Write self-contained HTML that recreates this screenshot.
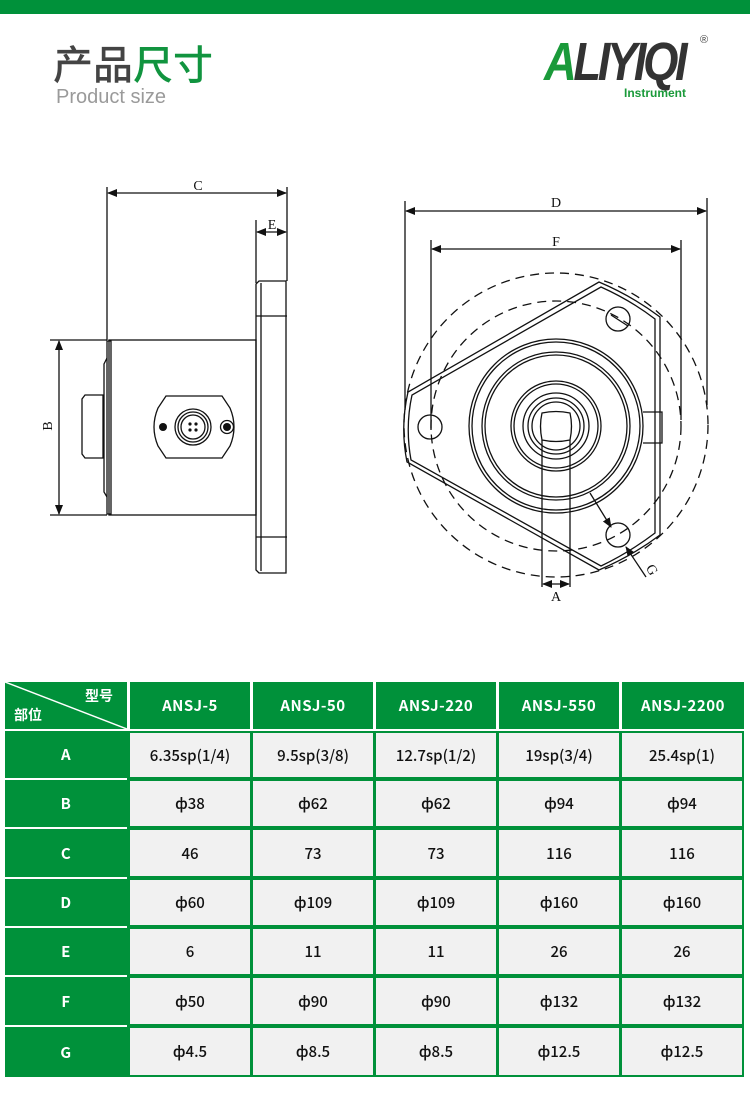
<!DOCTYPE html>
<html><head><meta charset="utf-8"><style>
*{margin:0;padding:0;box-sizing:border-box}
body{width:750px;height:1103px;background:#fff;position:relative;overflow:hidden;font-family:"Liberation Sans","Noto Sans CJK SC",sans-serif}
.a{position:absolute}
.c{position:absolute;display:flex;align-items:center;justify-content:center;font-size:15px;font-family:"Noto Sans CJK SC",sans-serif;font-weight:bold}
.h{background:#00913a;color:#fff;letter-spacing:0.5px}
.g{background:#f1f1f1;color:#111;font-weight:500}
</style></head><body>
<div class="a" style="left:0;top:0;width:750px;height:14px;background:#00913a"></div>
<div class="a" style="left:53px;top:38px;font-size:40px;line-height:48px;font-family:'Noto Sans CJK SC',sans-serif;font-weight:500;color:#444">产品<span style="color:#11943f">尺寸</span></div>
<div class="a" style="left:56px;top:86px;font-size:20px;color:#9a9a9a">Product size</div>
<div class="a" style="left:544px;top:34px;font-size:54px;line-height:56px;font-weight:bold;font-style:italic;color:#333;transform:scaleX(0.84);transform-origin:left;letter-spacing:-4px"><span style="color:#1a9a3a">A</span>LIYIQI</div>
<div class="a" style="left:700px;top:34px;font-size:11px;color:#444">®</div>
<div class="a" style="left:624px;top:86px;font-size:12px;font-weight:bold;color:#1a9a3a">Instrument</div>

<svg class="a" style="left:0;top:0" width="750" height="640" viewBox="0 0 750 640" fill="none" stroke="#111" stroke-width="1.3">
<defs><marker id="ar" markerWidth="10" markerHeight="8" refX="9" refY="4" orient="auto-start-reverse" markerUnits="userSpaceOnUse"><path d="M0,0L10,4L0,8z" fill="#111" stroke="none"/></marker></defs>
<line x1="107" y1="187" x2="107" y2="340"/><line x1="287" y1="187" x2="287" y2="281"/>
<line x1="108" y1="193" x2="286" y2="193" marker-start="url(#ar)" marker-end="url(#ar)"/>
<text x="198" y="190" font-family="Liberation Serif" font-size="14" fill="#111" stroke="none" text-anchor="middle">C</text>
<line x1="256" y1="220" x2="256" y2="283"/>
<line x1="257" y1="232" x2="286" y2="232" marker-start="url(#ar)" marker-end="url(#ar)"/>
<text x="272" y="229" font-family="Liberation Serif" font-size="14" fill="#111" stroke="none" text-anchor="middle">E</text>
<path d="M259,281H286V573H259L256,570V284Z"/><line x1="261" y1="283" x2="261" y2="571"/>
<line x1="256" y1="316" x2="287" y2="316"/><line x1="256" y1="537" x2="287" y2="537"/>
<rect x="109" y="340" width="147" height="175"/>
<path d="M107,341V514H111V341Z"/>
<path d="M107,358L104,364V492L107,497"/>
<path d="M103,395H85L82,399V454L85,458H103Z"/>
<line x1="50" y1="340" x2="107" y2="340"/><line x1="50" y1="515" x2="107" y2="515"/>
<line x1="59" y1="341" x2="59" y2="514" marker-start="url(#ar)" marker-end="url(#ar)"/>
<text x="52" y="426" font-family="Liberation Serif" font-size="14" fill="#111" stroke="none" text-anchor="middle" transform="rotate(-90 52 426)">B</text>
<path d="M166,396H222L230,408Q238,427 230,446L222,458H166L158,446Q150,427 158,408Z"/>
<circle cx="193" cy="427" r="18"/><circle cx="193" cy="427" r="15"/><circle cx="193" cy="427" r="12"/>
<g fill="#111" stroke="none"><circle cx="190" cy="424" r="1.6"/><circle cx="196" cy="424" r="1.6"/><circle cx="190" cy="430" r="1.6"/><circle cx="196" cy="430" r="1.6"/>
<circle cx="163" cy="427" r="4"/><circle cx="227" cy="427" r="4"/></g>
<circle cx="227" cy="427" r="6.5"/>
<line x1="405" y1="201" x2="405" y2="410"/><line x1="707" y1="198" x2="707" y2="405"/>
<line x1="406" y1="211" x2="706" y2="211" marker-start="url(#ar)" marker-end="url(#ar)"/>
<text x="556" y="207" font-family="Liberation Serif" font-size="14" fill="#111" stroke="none" text-anchor="middle">D</text>
<line x1="431" y1="240" x2="431" y2="430"/><line x1="681" y1="240" x2="681" y2="420"/>
<line x1="432" y1="249" x2="680" y2="249" marker-start="url(#ar)" marker-end="url(#ar)"/>
<text x="556" y="246" font-family="Liberation Serif" font-size="14" fill="#111" stroke="none" text-anchor="middle">F</text>
<circle cx="556" cy="425" r="152" stroke-dasharray="9,6"/>
<circle cx="556" cy="426" r="125" stroke-dasharray="9,6"/>
<path d="M599,282Q632,296 660,317V535Q632,556 599,570L407,462Q400,427 408,392Z"/>
<path d="M601,287Q630,300 655,319V533Q630,552 601,566L411,460Q405,427 412,395Z"/>
<circle cx="618" cy="319" r="12"/><circle cx="430" cy="427" r="12"/><circle cx="618" cy="535" r="12"/>
<line x1="611" y1="315" x2="628" y2="326"/>
<circle cx="556" cy="426" r="87"/><circle cx="556" cy="426" r="84"/>
<circle cx="556" cy="426" r="74"/><circle cx="556" cy="426" r="71"/>
<circle cx="556" cy="426" r="45"/><circle cx="556" cy="426" r="42"/>
<circle cx="556" cy="426" r="33"/><circle cx="556" cy="426" r="28"/><circle cx="556" cy="426" r="24"/>
<path d="M542,413Q556,410 570,413Q573,426 570,440Q556,443 542,440Q539,426 542,413Z"/>
<path d="M643,412H662V443H643"/>
<line x1="542" y1="440" x2="542" y2="587"/><line x1="570" y1="440" x2="570" y2="587"/>
<line x1="543" y1="584" x2="569" y2="584" marker-start="url(#ar)" marker-end="url(#ar)"/>
<text x="556" y="601" font-family="Liberation Serif" font-size="14" fill="#111" stroke="none" text-anchor="middle">A</text>
<line x1="590" y1="493" x2="611" y2="527" marker-end="url(#ar)"/>
<line x1="646" y1="577" x2="626" y2="547" marker-end="url(#ar)"/>
<text x="648" y="572" font-family="Liberation Serif" font-size="14" fill="#111" stroke="none" text-anchor="middle" transform="rotate(60 648 572)">G</text>
</svg>

<div class="a" style="left:127px;top:729px;width:617px;height:348px;background:#00913a"></div>
<div class="a" style="left:5px;top:729px;width:739px;height:2px;background:#fff"></div>
<div class="c h" style="left:5px;top:682px;width:122px;height:47px"></div>
<svg class="a" style="left:5px;top:682px" width="122" height="47"><line x1="0" y1="0" x2="122" y2="47" stroke="#fff" stroke-width="1.5"/></svg>
<div class="a" style="left:85px;top:686px;color:#fff;font-weight:bold;font-size:14px;font-family:'Noto Sans CJK SC',sans-serif">型号</div>
<div class="a" style="left:14px;top:705px;color:#fff;font-weight:bold;font-size:14px;font-family:'Noto Sans CJK SC',sans-serif">部位</div>
<div class="c h" style="left:130px;top:682px;width:120px;height:47px">ANSJ-5</div>
<div class="c h" style="left:253px;top:682px;width:120px;height:47px">ANSJ-50</div>
<div class="c h" style="left:376px;top:682px;width:120px;height:47px">ANSJ-220</div>
<div class="c h" style="left:499px;top:682px;width:120px;height:47px">ANSJ-550</div>
<div class="c h" style="left:622px;top:682px;width:122px;height:47px">ANSJ-2200</div>

<div class="c h" style="left:5px;top:731px;width:122px;height:47px">A</div>
<div class="c g" style="left:130px;top:733px;width:120px;height:44px">6.35sp(1/4)</div>
<div class="c g" style="left:253px;top:733px;width:120px;height:44px">9.5sp(3/8)</div>
<div class="c g" style="left:376px;top:733px;width:120px;height:44px">12.7sp(1/2)</div>
<div class="c g" style="left:499px;top:733px;width:120px;height:44px">19sp(3/4)</div>
<div class="c g" style="left:622px;top:733px;width:120px;height:44px">25.4sp(1)</div>

<div class="c h" style="left:5px;top:780px;width:122px;height:47px">B</div>
<div class="c g" style="left:130px;top:781px;width:120px;height:45px">ф38</div>
<div class="c g" style="left:253px;top:781px;width:120px;height:45px">ф62</div>
<div class="c g" style="left:376px;top:781px;width:120px;height:45px">ф62</div>
<div class="c g" style="left:499px;top:781px;width:120px;height:45px">ф94</div>
<div class="c g" style="left:622px;top:781px;width:120px;height:45px">ф94</div>

<div class="c h" style="left:5px;top:829px;width:122px;height:48px">C</div>
<div class="c g" style="left:130px;top:830px;width:120px;height:46px">46</div>
<div class="c g" style="left:253px;top:830px;width:120px;height:46px">73</div>
<div class="c g" style="left:376px;top:830px;width:120px;height:46px">73</div>
<div class="c g" style="left:499px;top:830px;width:120px;height:46px">116</div>
<div class="c g" style="left:622px;top:830px;width:120px;height:46px">116</div>

<div class="c h" style="left:5px;top:879px;width:122px;height:47px">D</div>
<div class="c g" style="left:130px;top:880px;width:120px;height:45px">ф60</div>
<div class="c g" style="left:253px;top:880px;width:120px;height:45px">ф109</div>
<div class="c g" style="left:376px;top:880px;width:120px;height:45px">ф109</div>
<div class="c g" style="left:499px;top:880px;width:120px;height:45px">ф160</div>
<div class="c g" style="left:622px;top:880px;width:120px;height:45px">ф160</div>

<div class="c h" style="left:5px;top:928px;width:122px;height:47px">E</div>
<div class="c g" style="left:130px;top:929px;width:120px;height:45px">6</div>
<div class="c g" style="left:253px;top:929px;width:120px;height:45px">11</div>
<div class="c g" style="left:376px;top:929px;width:120px;height:45px">11</div>
<div class="c g" style="left:499px;top:929px;width:120px;height:45px">26</div>
<div class="c g" style="left:622px;top:929px;width:120px;height:45px">26</div>

<div class="c h" style="left:5px;top:977px;width:122px;height:48px">F</div>
<div class="c g" style="left:130px;top:978px;width:120px;height:46px">ф50</div>
<div class="c g" style="left:253px;top:978px;width:120px;height:46px">ф90</div>
<div class="c g" style="left:376px;top:978px;width:120px;height:46px">ф90</div>
<div class="c g" style="left:499px;top:978px;width:120px;height:46px">ф132</div>
<div class="c g" style="left:622px;top:978px;width:120px;height:46px">ф132</div>

<div class="c h" style="left:5px;top:1027px;width:122px;height:50px">G</div>
<div class="c g" style="left:130px;top:1028px;width:120px;height:47px">ф4.5</div>
<div class="c g" style="left:253px;top:1028px;width:120px;height:47px">ф8.5</div>
<div class="c g" style="left:376px;top:1028px;width:120px;height:47px">ф8.5</div>
<div class="c g" style="left:499px;top:1028px;width:120px;height:47px">ф12.5</div>
<div class="c g" style="left:622px;top:1028px;width:120px;height:47px">ф12.5</div>
</body></html>
